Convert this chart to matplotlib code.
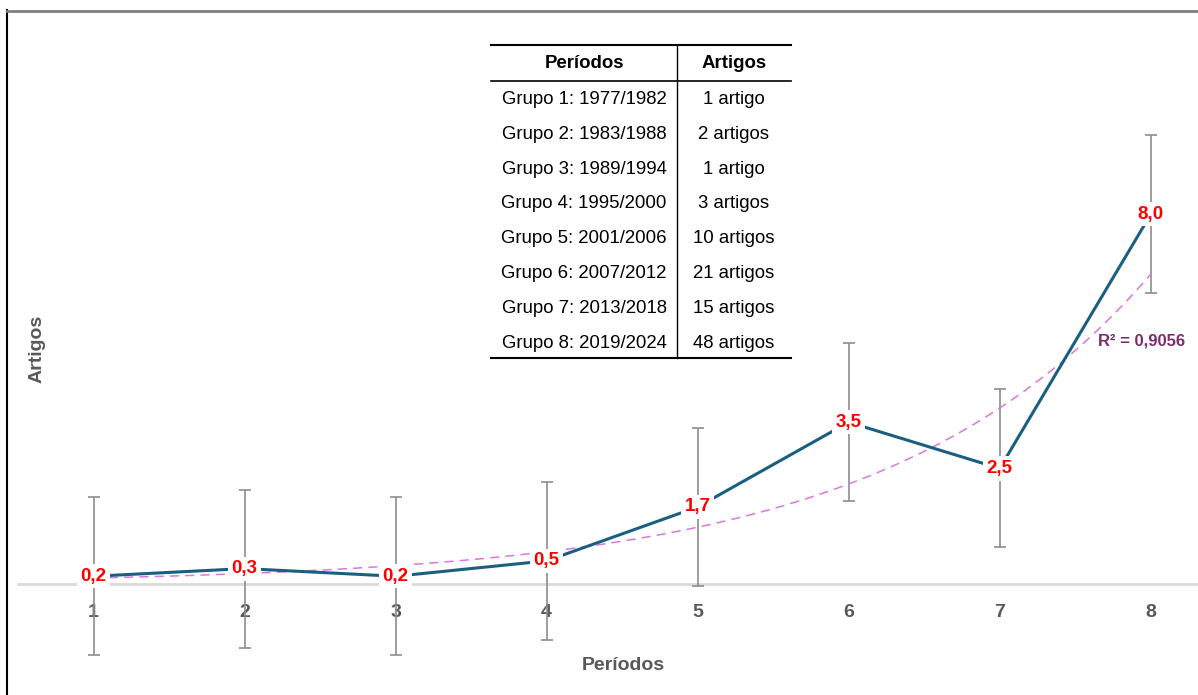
import numpy as np
import matplotlib
matplotlib.use("Agg")
import matplotlib.pyplot as plt
from matplotlib.lines import Line2D

plt.rcParams['font.family'] = ['Liberation Sans', 'DejaVu Sans']

# dados
periodos = [1, 2, 3, 4, 5, 6, 7, 8]
grupos = ["Grupo 1: 1977/1982", "Grupo 2: 1983/1988", "Grupo 3: 1989/1994",
          "Grupo 4: 1995/2000", "Grupo 5: 2001/2006", "Grupo 6: 2007/2012",
          "Grupo 7: 2013/2018", "Grupo 8: 2019/2024"]
artigos = [1, 2, 1, 3, 10, 21, 15, 48]
anos_por_grupo = 6
erro = 1.71
r2_texto = "R² = 0,9056"

media = np.array(artigos) / anos_por_grupo
x = np.array(periodos)

W, H = 1198, 695
fig = plt.figure(figsize=(W / 100, H / 100), dpi=100)

def fx(px):
    return px / W

def fy(py):
    return 1 - py / H

ax = fig.add_axes([fx(18), 0, 1 - fx(18), (H - 11) / H])
ax.set_xlim(0.5, 8.313)
ax.set_ylim(-2.403, 12.40)

# barras de erro
ax.errorbar(x, media, yerr=erro, fmt='none', ecolor='#8c8c8c', elinewidth=1.2,
            capsize=4, capthick=1.2, zorder=3)

# linha de tendencia exponencial
b, a = np.polyfit(x, np.log(media), 1)
xt = np.linspace(1, 8, 200)
ax.plot(xt, np.exp(a + b * xt), color='#dd77dd', lw=1.1, ls=(0, (6, 4)), zorder=4)

# serie
ax.plot(x, media, color='#1a5f80', lw=2.2, zorder=5)

for xi, yi in zip(x, media):
    ax.text(xi, yi, f"{yi:.1f}".replace('.', ','), color='red', fontsize=13.5,
            fontweight='bold', ha='center', va='center', zorder=6,
            bbox=dict(facecolor='white', edgecolor='none', pad=2.5))

ax.text(7.94, 5.26, r2_texto, color='#7b2c6e', fontsize=12, fontweight='bold',
        ha='center', va='center', zorder=6)

# eixos
for s in ['top', 'right', 'left']:
    ax.spines[s].set_visible(False)
ax.spines['bottom'].set_position(('data', 0))
ax.spines['bottom'].set_color('#d9d9d9')
ax.spines['bottom'].set_linewidth(2)
ax.spines['bottom'].set_zorder(1)
ax.set_yticks([])
ax.set_xticks(periodos)
ax.tick_params(axis='x', length=0, pad=14.5, labelsize=14, labelcolor='#595959')
for lb in ax.get_xticklabels():
    lb.set_fontweight('bold')
    lb.set_zorder(1)

ax.set_xlabel("Períodos", fontsize=14, fontweight='bold', color='#595959')
ax.xaxis.set_label_coords((623 - 18) / (W - 18), (H - 666) / (H - 11))
ax.xaxis.label.set_va('center')
ax.set_ylabel("Artigos", fontsize=14, fontweight='bold', color='#595959')
ax.yaxis.set_label_coords((37 - 18) / (W - 18), (H - 349) / (H - 11))
ax.yaxis.label.set_va('center')

# tabela
tab_l, tab_m, tab_r = 491, 677, 791
tab_top, tab_head, tab_bot = 45, 81, 358
fig.add_artist(Line2D([fx(tab_l), fx(tab_r)], [fy(tab_top)] * 2, color='black', lw=1.5))
fig.add_artist(Line2D([fx(tab_l), fx(tab_r)], [fy(tab_head)] * 2, color='black', lw=1.2))
fig.add_artist(Line2D([fx(tab_l), fx(tab_r)], [fy(tab_bot)] * 2, color='black', lw=1.5))
fig.add_artist(Line2D([fx(tab_m)] * 2, [fy(tab_top), fy(tab_bot)], color='black', lw=1.0))

c0 = (tab_l + tab_m) / 2
c1 = (tab_m + tab_r) / 2
fig.text(fx(c0), fy(63), "Períodos", fontsize=13.4, fontweight='bold', ha='center', va='center')
fig.text(fx(c1), fy(63), "Artigos", fontsize=13.4, fontweight='bold', ha='center', va='center')
for i, (g, n) in enumerate(zip(grupos, artigos)):
    yy = 99.5 + 34.8 * i
    fig.text(fx(c0), fy(yy), g, fontsize=13.4, ha='center', va='center')
    fig.text(fx(c1), fy(yy), f"{n} artigo" + ("s" if n > 1 else ""),
             fontsize=13.4, ha='center', va='center')

# moldura
fig.add_artist(Line2D([fx(7), fx(7)], [fy(10), 0], color='black', lw=1.5))
fig.add_artist(Line2D([fx(7), 1], [fy(10.5)] * 2, color='#7f7f7f', lw=2))

fig.savefig("out.png", dpi=100)
